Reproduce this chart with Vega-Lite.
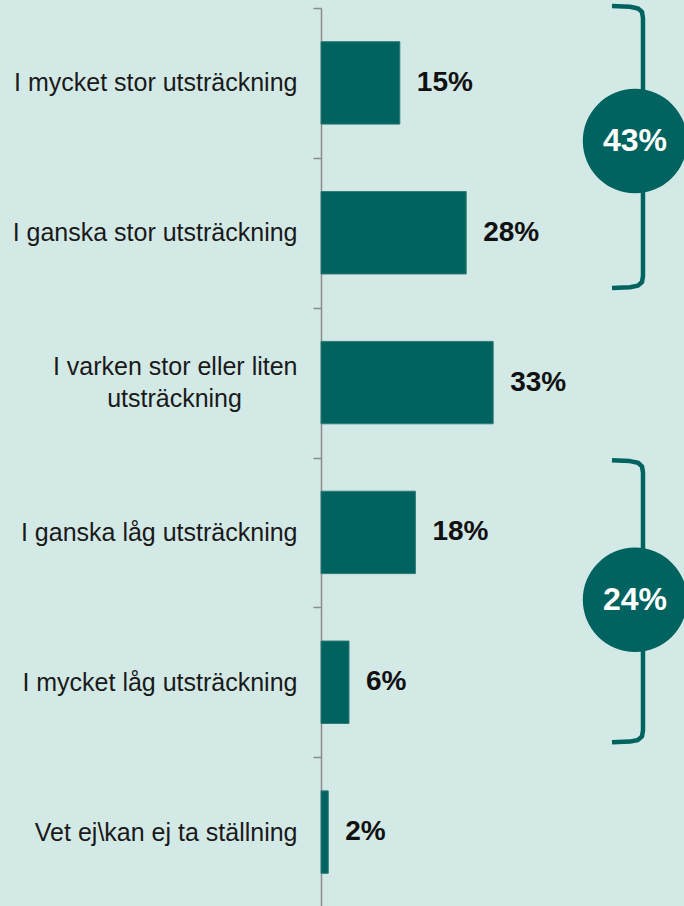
{
  "$schema": "https://vega.github.io/schema/vega-lite/v6.json",
  "width": 363,
  "height": 899,
  "autosize": {"type": "none"},
  "padding": {"left": 321, "top": 8, "right": 0, "bottom": 0},
  "background": "#d3e9e6",
  "config": {"view": {"stroke": null}},
  "datasets": {
    "svar": [
      {"kat": "I mycket stor utsträckning", "andel": 15.2, "etikett": "15%"},
      {"kat": "I ganska stor utsträckning", "andel": 28.0, "etikett": "28%"},
      {"kat": "I varken stor eller liten utsträckning", "andel": 33.2, "etikett": "33%"},
      {"kat": "I ganska låg utsträckning", "andel": 18.2, "etikett": "18%"},
      {"kat": "I mycket låg utsträckning", "andel": 5.4, "etikett": "6%"},
      {"kat": "Vet ej\\kan ej ta ställning", "andel": 1.4, "etikett": "2%"}
    ],
    "klammer": [
      {"grp": "A", "o": 1, "x": 56.11, "u": -0.013},
      {"grp": "A", "o": 2, "x": 59.58, "u": -0.008},
      {"grp": "A", "o": 3, "x": 61.13, "u": 0.003},
      {"grp": "A", "o": 4, "x": 61.90, "u": 0.027},
      {"grp": "A", "o": 5, "x": 62.09, "u": 0.067},
      {"grp": "A", "o": 6, "x": 62.09, "u": 1.789},
      {"grp": "A", "o": 7, "x": 61.90, "u": 1.829},
      {"grp": "A", "o": 8, "x": 61.13, "u": 1.853},
      {"grp": "A", "o": 9, "x": 59.58, "u": 1.864},
      {"grp": "A", "o": 10, "x": 56.11, "u": 1.869},
      {"grp": "B", "o": 1, "x": 56.11, "u": 3.019},
      {"grp": "B", "o": 2, "x": 59.58, "u": 3.024},
      {"grp": "B", "o": 3, "x": 61.13, "u": 3.035},
      {"grp": "B", "o": 4, "x": 61.90, "u": 3.059},
      {"grp": "B", "o": 5, "x": 62.09, "u": 3.099},
      {"grp": "B", "o": 6, "x": 62.09, "u": 4.821},
      {"grp": "B", "o": 7, "x": 61.90, "u": 4.861},
      {"grp": "B", "o": 8, "x": 61.13, "u": 4.885},
      {"grp": "B", "o": 9, "x": 59.58, "u": 4.896},
      {"grp": "B", "o": 10, "x": 56.11, "u": 4.901}
    ],
    "summa": [
      {"x": 60.55, "u": 0.888, "etikett": "43%"},
      {"x": 60.55, "u": 3.95, "etikett": "24%"}
    ]
  },
  "layer": [
    {
      "data": {"name": "svar"},
      "encoding": {
        "y": {
          "field": "kat",
          "type": "nominal",
          "sort": null,
          "scale": {"paddingInner": 0.45, "paddingOuter": 0.225},
          "axis": {
            "title": null,
            "tickOffset": -74.9,
            "labelOffset": {"condition": {"test": "datum.label == 'I varken stor eller liten utsträckning'", "value": 58.9}, "value": 74.9},
            "domainColor": "#8c8c8c",
            "domainWidth": 1.5,
            "tickColor": "#8c8c8c",
            "tickWidth": 1.5,
            "tickSize": 8,
            "labelPadding": 16,
            "labelFont": "Liberation Sans",
            "labelFontSize": 25,
            "labelColor": "#1a1a1a",
            "labelLimit": 0,
            "labelLineHeight": 32,
            "labelExpr": "datum.label == 'I varken stor eller liten utsträckning' ? ['I varken stor eller liten', 'utsträckning\u00a0\u00a0\u00a0\u00a0\u00a0\u00a0\u00a0\u00a0\u200b'] : datum.label"
          }
        },
        "x": {
          "field": "andel",
          "type": "quantitative",
          "scale": {"domain": [0, 70], "nice": false, "zero": true},
          "axis": null
        }
      },
      "layer": [
        {"mark": {"type": "bar", "color": "#00635f", "stroke": "#2f7a76", "strokeWidth": 1}},
        {
          "mark": {
            "type": "text",
            "align": "left",
            "baseline": "middle",
            "dx": 17,
            "font": "Liberation Sans",
            "fontWeight": "bold",
            "fontSize": 28,
            "color": "#111111"
          },
          "encoding": {"text": {"field": "etikett"}}
        }
      ]
    },
    {
      "data": {"name": "klammer"},
      "mark": {"type": "line", "color": "#00635f", "strokeWidth": 4.5, "strokeCap": "butt", "strokeJoin": "round"},
      "encoding": {
        "x": {"field": "x", "type": "quantitative", "scale": {"domain": [0, 70], "nice": false, "zero": true}, "axis": null},
        "y": {"field": "u", "type": "quantitative", "scale": {"domain": [0, 6], "reverse": true, "nice": false, "zero": false}, "axis": null},
        "detail": {"field": "grp"},
        "order": {"field": "o", "type": "quantitative"}
      }
    },
    {
      "data": {"name": "summa"},
      "encoding": {
        "x": {"field": "x", "type": "quantitative", "scale": {"domain": [0, 70], "nice": false, "zero": true}, "axis": null},
        "y": {"field": "u", "type": "quantitative", "scale": {"domain": [0, 6], "reverse": true, "nice": false, "zero": false}, "axis": null}
      },
      "layer": [
        {"mark": {"type": "circle", "size": 10900, "color": "#00635f", "opacity": 1}},
        {
          "mark": {
            "type": "text",
            "align": "center",
            "baseline": "middle",
            "font": "Liberation Sans",
            "fontWeight": "bold",
            "fontSize": 32,
            "color": "#ffffff"
          },
          "encoding": {"text": {"field": "etikett"}}
        }
      ]
    }
  ],
  "resolve": {"scale": {"y": "independent"}}
}
